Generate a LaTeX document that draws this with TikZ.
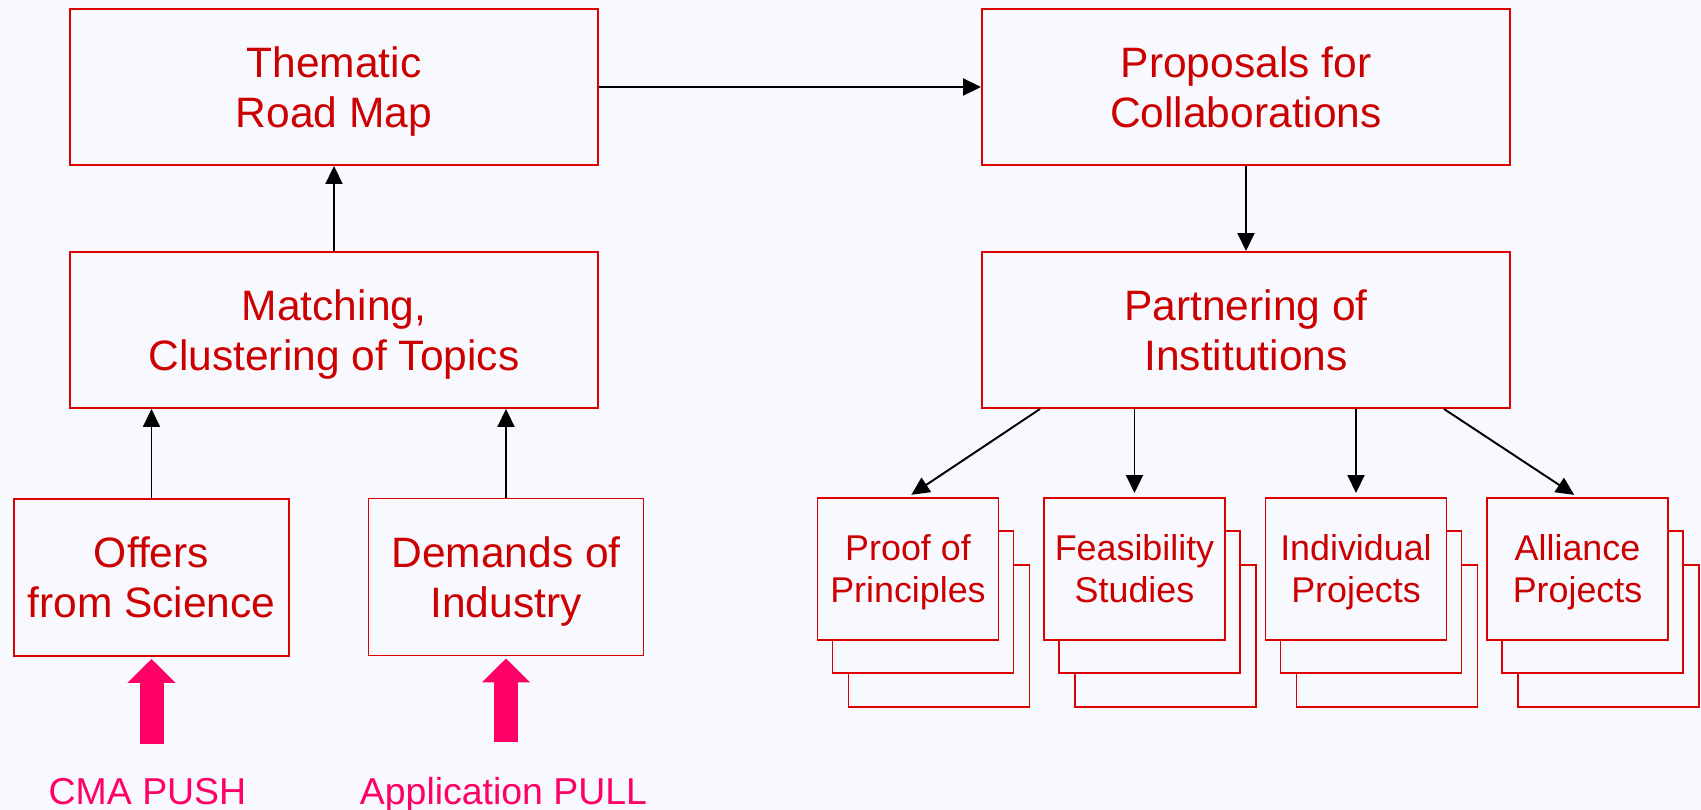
\documentclass[tikz,border=0pt]{standalone}
\usepackage{fontspec}
\setmainfont{Liberation Sans}
\usepackage{tikz}
\usetikzlibrary{arrows.meta}
\definecolor{boxred}{RGB}{220,0,0}
\definecolor{textred}{RGB}{204,0,0}
\definecolor{pushpink}{RGB}{255,0,102}
\definecolor{paper}{RGB}{248,249,254}
\newcommand{\boxfont}{\fontsize{24.2}{28.5}\selectfont}
\newcommand{\stackfont}{\fontsize{20.4}{23.9}\selectfont}
\newcommand{\pushfont}{\fontsize{21.3}{25}\selectfont}

\begin{document}
\begin{tikzpicture}
    % Define styles for boxes and arrows
    \tikzstyle{box}=[rectangle, draw=boxred, line width=1.1pt, text=textred, align=center, fill=paper]
    \tikzstyle{big box}=[box, font=\boxfont, text depth=-2pt, minimum width=10.56cm, minimum height=3.12cm]
    \tikzstyle{source box}=[box, font=\boxfont, text depth=0pt, minimum width=5.5cm, minimum height=3.14cm]
    \tikzstyle{result box}=[box, font=\stackfont, text depth=-1pt, minimum width=3.62cm, minimum height=2.84cm]
    \tikzstyle{link}=[-{Triangle[length=0.36cm, width=0.34cm]}, line width=1.1pt]
    \tikzstyle{push}=[-{Triangle[length=0.48cm, width=0.94cm]}, line width=0.48cm, pushpink]
    \tikzstyle{push label}=[text=pushpink, font=\pushfont, anchor=base]

    % Background
    \fill[paper] (0,0) rectangle (34.02,-16.2);
    \useasboundingbox (0,0) rectangle (34.02,-16.2);

    % Left column
    \node[big box] (T) at (6.68,-1.74) {Thematic\\Road Map};
    \node[big box] (M) at (6.68,-6.6) {Matching,\\Clustering of Topics};
    \node[source box] (O) at (3.03,-11.55) {Offers\\from Science};
    \node[source box] (D) at (10.12,-11.54) {Demands of\\Industry};

    % Right column
    \node[big box] (P) at (24.92,-1.74) {Proposals for\\Collaborations};
    \node[big box] (Pa) at (24.92,-6.6) {Partnering of\\Institutions};

    % Stacked result boxes
    \foreach \i/\x/\txt in {1/18.16/{Proof of\\Principles}, 2/22.69/{Feasibility\\Studies},
                           3/27.12/{Individual\\Projects}, 4/31.55/{Alliance\\Projects}} {
        \node[result box] (R-\i-3) at (\x+0.62,-12.72) {};
        \node[result box] (R-\i-2) at (\x+0.30,-12.04) {};
        \node[result box] (R-\i) at (\x,-11.38) {\txt};
    }

    % Connectors between the main boxes
    \draw[link] (T) -- (P);
    \draw[link] (P) -- (Pa);
    \draw[link] (M) -- (T);
    \foreach \s in {O,D} {
        \draw[link] (\s) -- (\s |- M.south);
    }

    % Partnering to results
    \coordinate (S-1) at ([xshift=1.18cm]Pa.south west);
    \coordinate (S-2) at (R-2 |- Pa.south);
    \coordinate (S-3) at (R-3 |- Pa.south);
    \coordinate (S-4) at ([xshift=-1.34cm]Pa.south east);
    \foreach \i in {1,...,4} {
        \draw[link, shorten >=0.08cm] (S-\i) -- (R-\i.north);
    }

    % Push and pull arrows
    \node[push label] (CMA) at (2.95,-16.08) {CMA PUSH};
    \node[push label] (APP) at (10.07,-16.08) {Application PULL};
    \coordinate (CMA-tail) at (3.03,-14.88);
    \coordinate (APP-tail) at (10.12,-14.84);
    \draw[push, shorten >=0.04cm] (CMA-tail) -- (O);
    \draw[push, shorten >=0.04cm] (APP-tail) -- (D);

\end{tikzpicture}
\end{document}
